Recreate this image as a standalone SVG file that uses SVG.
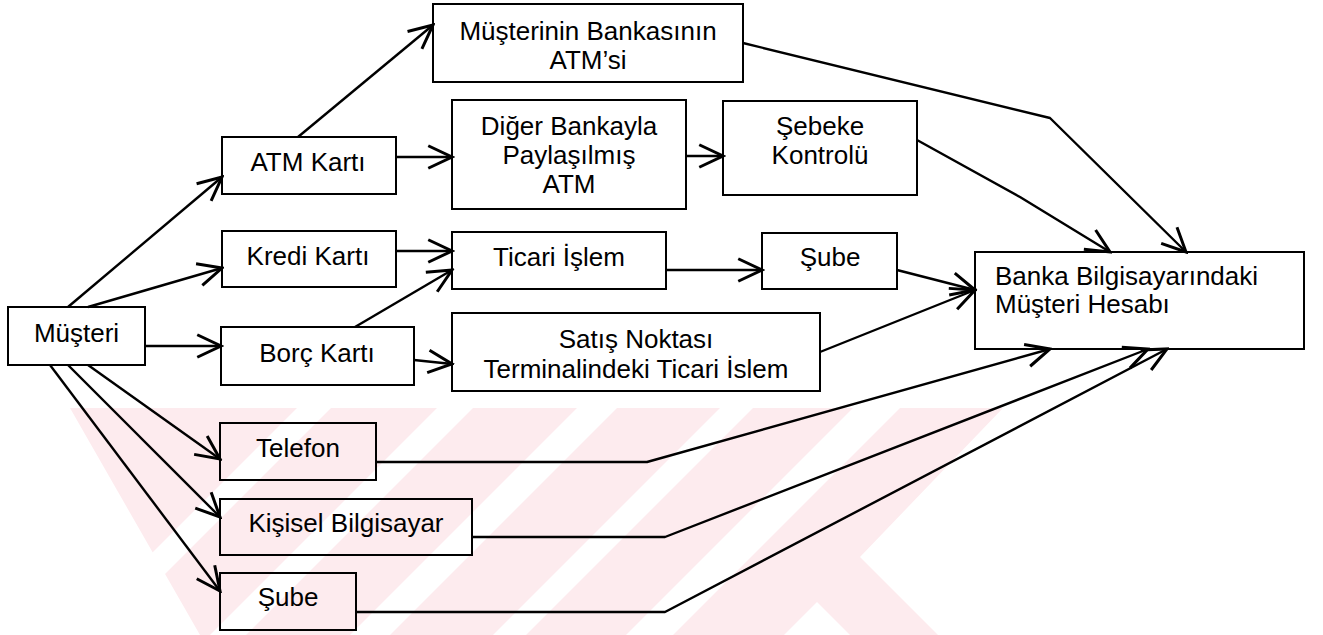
<svg xmlns="http://www.w3.org/2000/svg" width="1323" height="635" viewBox="0 0 1323 635">
<style>
.box{fill:none;stroke:#000;stroke-width:2}
.t{font-family:"Liberation Sans",Arial,sans-serif;font-size:26px;fill:#000;text-anchor:middle}
.tl{font-family:"Liberation Sans",Arial,sans-serif;font-size:26px;fill:#000}
.c{fill:none;stroke:#000;stroke-width:2.4;stroke-linejoin:round;marker-end:url(#ah)}
</style>
<defs>
<marker id="ah" markerUnits="userSpaceOnUse" markerWidth="30" markerHeight="30" viewBox="-22 -12 24 24" refX="0" refY="0" orient="auto">
<path d="M-19,-9 L0,0 L-19,9" fill="none" stroke="#000" stroke-width="2.4" stroke-linejoin="miter"/>
</marker>
</defs>
<rect width="1323" height="635" fill="#fff"/>
<g id="watermark">
<polygon points="70,408 1003,408 860,557 938,635 200,635" fill="#fdebee"/>
<g fill="#fff">
<polygon points="853,408 900,408 673,635 626,635"/>
<polygon points="720,408 753,408 526,635 493,635"/>
<polygon points="577,408 617,408 390,635 350,635"/>
<polygon points="437,408 473,408 246,635 210,635"/>
<polygon points="297,408 331,408 104,635 70,635"/>
<polygon points="817,602 784,635 850,635"/>
</g>
</g>
<g id="connectors">
<path class="c" d="M68,307 L222,177"/>
<path class="c" d="M88,307 L222,268"/>
<path class="c" d="M145,346 L221,346"/>
<path class="c" d="M88,365 L220,459"/>
<path class="c" d="M68,365 L220,517"/>
<path class="c" d="M50,365 L220,591"/>
<path class="c" d="M298,137 L433,25"/>
<path class="c" d="M396,157 L452,157"/>
<path class="c" d="M686,156 L723,156"/>
<path class="c" d="M396,251 L452,251"/>
<path class="c" d="M355,327 L452,270"/>
<path class="c" d="M414,360 L452,364"/>
<path class="c" d="M666,270 L762,270"/>
<path class="c" d="M743,43 L1050,118 L1186,252"/>
<path class="c" d="M917,140 L1020,197 L1110,252"/>
<path class="c" d="M897,270 L975,290"/>
<path class="c" d="M820,352 L975,290"/>
<path class="c" d="M376,462 L647,462 L1050,349"/>
<path class="c" d="M472,537 L665,537 L1148,349"/>
<path class="c" d="M356,612 L665,612 L1167,349"/>
</g>
<g id="musteri"><rect class="box" x="8" y="307" width="137" height="58"/><text class="t" x="76.5" y="342">Müşteri</text></g>
<g id="atm-karti"><rect class="box" x="222" y="137" width="174" height="57"/><text class="t" x="308" y="171">ATM Kartı</text></g>
<g id="kredi-karti"><rect class="box" x="222" y="231" width="174" height="56"/><text class="t" x="308" y="265">Kredi Kartı</text></g>
<g id="borc-karti"><rect class="box" x="221" y="327" width="193" height="58"/><text class="t" x="317" y="362">Borç Kartı</text></g>
<g id="telefon"><rect class="box" x="220" y="423" width="156" height="57"/><text class="t" x="298" y="457">Telefon</text></g>
<g id="kisisel-bilgisayar"><rect class="box" x="220" y="499" width="252" height="56"/><text class="t" x="346" y="532">Kişisel Bilgisayar</text></g>
<g id="sube-alt"><rect class="box" x="220" y="573" width="136" height="57"/><text class="t" x="288" y="606">Şube</text></g>
<g id="musterinin-bankasi-atm"><rect class="box" x="433" y="4" width="310" height="78"/><text class="t" x="588" y="40">Müşterinin Bankasının</text><text class="t" x="588" y="69">ATM’si</text></g>
<g id="diger-banka-atm"><rect class="box" x="452" y="100" width="234" height="109"/><text class="t" x="569" y="135">Diğer Bankayla</text><text class="t" x="569" y="164">Paylaşılmış</text><text class="t" x="569" y="193">ATM</text></g>
<g id="sebeke-kontrolu"><rect class="box" x="723" y="101" width="194" height="94"/><text class="t" x="820" y="135">Şebeke</text><text class="t" x="820" y="164">Kontrolü</text></g>
<g id="ticari-islem"><rect class="box" x="452" y="232" width="214" height="57"/><text class="t" x="559" y="266">Ticari İşlem</text></g>
<g id="sube-orta"><rect class="box" x="762" y="233" width="135" height="56"/><text class="t" x="830" y="266">Şube</text></g>
<g id="satis-noktasi"><rect class="box" x="452" y="313" width="368" height="78"/><text class="t" x="636" y="348">Satış Noktası</text><text class="t" x="636" y="378">Terminalindeki Ticari İslem</text></g>
<g id="banka-hesap"><rect class="box" x="975" y="252" width="329" height="97"/><text class="tl" x="995" y="285">Banka Bilgisayarındaki</text><text class="tl" x="995" y="313">Müşteri Hesabı</text></g>
</svg>
